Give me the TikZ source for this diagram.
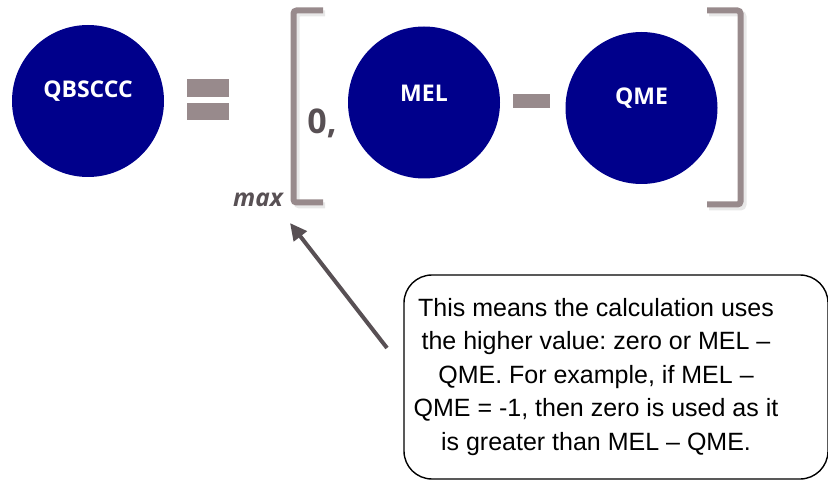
\documentclass[tikz,border=0pt]{standalone}
\usepackage{fontspec}
\setmainfont{Liberation Sans}
\newfontfamily\circfont{Open Sans}
\usetikzlibrary{arrows.meta}
\definecolor{navyfill}{RGB}{0,0,139}
\definecolor{brackgray}{RGB}{152,138,140}
\definecolor{darkgray}{RGB}{88,80,84}
\frenchspacing
\begin{document}
\begin{tikzpicture}[x=1pt,y=-1pt,
  term/.style={circle,fill=navyfill,minimum size=152pt,inner sep=0pt},
  termtext/.style={text=white,font=\circfont\bfseries\fontsize{23}{26}\selectfont},
  opbar/.style={fill=brackgray},
  brack/.style={draw=brackgray,line width=6pt,rounded corners=3pt},
  brackshadow/.style={draw=black!20,line width=6pt,rounded corners=3pt,opacity=0.45},
  pointer/.style={draw=darkgray,line width=4pt,-{Triangle[length=17pt,width=16pt]}},
  notebox/.style={draw=black,line width=1.4pt,rounded corners=28pt,inner sep=0pt},
  notetext/.style={align=center,inner sep=0pt,font=\fontsize{25}{33.5}\selectfont}]
\useasboundingbox (0,0) rectangle (828,481);

% operands
\node[term] (qbsccc) at (88,101) {};
\node[termtext] (qbsccclbl) at (88,91) {QBSCCC};
\node[term] (mel) at (424,102.5) {};
\node[termtext] (mellbl) at (424,93.5) {MEL};
\node[term] (qme) at (641.5,108) {};
\node[termtext] (qmelbl) at (641.5,98) {QME};

% equals sign and minus sign
\fill[opbar] (187,79) rectangle (229,97);
\fill[opbar] (187,103) rectangle (229,120);
\fill[opbar] (513,94) rectangle (550,108);

% brackets of the max function, with a soft shadow
\draw[brackshadow] (325,13.5) -- (296.5,13.5) -- (296.5,205.5) -- (325,205.5);
\draw[brackshadow] (709,13.5) -- (743.5,13.5) -- (743.5,207.5) -- (709,207.5);
\draw[brack] (323,10.5) -- (293.5,10.5) -- (293.5,202.5) -- (323,202.5);
\draw[brack] (707,10.5) -- (740.5,10.5) -- (740.5,204.5) -- (707,204.5);

\node[text=darkgray,font=\circfont\bfseries\fontsize{34}{37}\selectfont] (zero) at (322,123) {0,};
\node[text=darkgray,font=\circfont\bfseries\itshape\fontsize{24.5}{27}\selectfont,anchor=base] (maxlbl) at (258,207) {max};

% explanatory note
\node[notebox,minimum width=424pt,minimum height=204pt] (note) at (616,377) {};
\node[notetext] (notetxt) at (596,377) {This means the calculation uses\\the higher value: zero or MEL --\\QME. For example, if MEL --\\QME = -1, then zero is used as it\\is greater than MEL -- QME.};

\coordinate (tail) at (387,348);
\coordinate (tip) at (290,223);
\draw[pointer] (tail) -- (tip);
\end{tikzpicture}
\end{document}
